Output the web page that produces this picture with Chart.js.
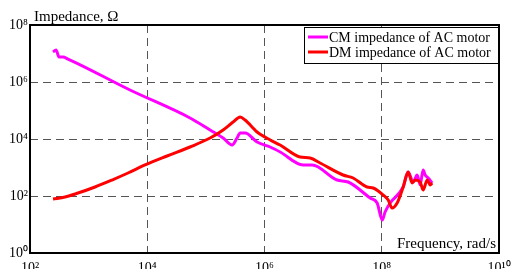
<!DOCTYPE html>
<html>
<head>
<meta charset="utf-8">
<script src="https://cdn.jsdelivr.net/npm/chart.js@4/dist/chart.umd.min.js"></script>
<style>
  body { margin: 0; background: #fff; }
  #wrap { width: 511px; height: 269px; }
</style>
</head>
<body>
<div id="wrap"><canvas id="chartImpedance" width="511" height="269"></canvas></div>
<script>
// Frequency (rad/s) and impedance (Ohm)
const cmFreq = [247, 278, 313, 366, 445, 5080, 53700, 1.18e5, 1.97e5, 2.8e5, 3.4e5, 3.84e5, 4.67e5, 7.48e5, 1.25e6, 1.85e6, 4.56e6, 6.49e6, 1.73e7, 2.67e7, 6.34e7, 8.35e7, 1.02e8, 1.14e8, 1.39e8, 2.32e8, 2.82e8, 3.44e8, 4.02e8, 4.52e8, 5.08e8, 5.5e8, 6.2e8, 7.25e8];
const cmImpedance = [1.13e7, 1.33e7, 7.5e6, 7.5e6, 6.4e6, 5.24e5, 5.46e4, 2.07e4, 1.08e4, 6150, 1.08e4, 1.62e4, 1.62e4, 7850, 5240, 3500, 1225, 1225, 364, 310, 85, 56.8, 14.4, 27.5, 56.8, 207, 695, 310, 546, 250, 817, 546, 428, 286];

const dmFreq = [247, 395, 659, 1285, 2506, 4700, 9160, 21800, 53700, 1.18e5, 1.97e5, 2.91e5, 3.84e5, 4.67e5, 7.48e5, 1.25e6, 1.85e6, 4.05e6, 6.0e6, 8.89e6, 2.19e7, 3.25e7, 5.63e7, 7.13e7, 1.06e8, 1.29e8, 1.5e8, 1.83e8, 2.32e8, 2.82e8, 3.3e8, 3.72e8, 4.52e8, 5.08e8, 5.96e8, 6.7e8, 7.25e8];
const dmImpedance = [78.5, 92, 127, 207, 364, 641, 1225, 2535, 5240, 1.08e4, 2.07e4, 3.94e4, 5.92e4, 4.64e4, 1.76e4, 9230, 6150, 2330, 2150, 1440, 546, 428, 207, 191, 108, 72.4, 37.9, 56.8, 207, 695, 286, 364, 310, 163, 364, 243, 286];

const seriesLabels = ['CM impedance of AC motor', 'DM impedance of AC motor'];
const freqTicks = [1e2, 1e4, 1e6, 1e8, 1e10];
const impTicks = [1e0, 1e2, 1e4, 1e6, 1e8];

const SERIF = "'Liberation Serif', 'Times New Roman', serif";

function supLabel(v) {
  const e = Math.round(Math.log10(v));
  return '10' + String(e).split('').map(d => '⁰¹²³⁴⁵⁶⁷⁸⁹'[d]).join('');
}

function toPoints(xs, ys) {
  return xs.map((x, i) => ({ x: x, y: ys[i] }));
}

// frame, axis captions and boxed legend like the original figure
const figureDecor = {
  id: 'figureDecor',
  afterDraw(chart) {
    const ctx = chart.ctx;
    const a = chart.chartArea;
    ctx.save();
    ctx.strokeStyle = '#000';
    ctx.lineWidth = 2;
    ctx.strokeRect(a.left, a.top, a.right - a.left, a.bottom - a.top);

    ctx.fillStyle = '#000';
    ctx.font = '15px ' + SERIF;
    ctx.textBaseline = 'alphabetic';
    ctx.textAlign = 'left';
    ctx.fillText('Impedance, Ω', a.left + 4, a.top - 4);
    ctx.textAlign = 'right';
    ctx.fillText('Frequency, rad/s', a.right - 3, a.bottom - 5);

    // legend box
    const bx = 304, by = 27, bw = 194, bh = 36;
    ctx.fillStyle = '#fff';
    ctx.fillRect(bx, by, bw, bh);
    ctx.lineWidth = 1;
    ctx.strokeStyle = '#000';
    ctx.strokeRect(bx + 0.5, by + 0.5, bw, bh);
    ctx.font = '14px ' + SERIF;
    ctx.textAlign = 'left';
    ctx.textBaseline = 'middle';
    chart.data.datasets.forEach((ds, i) => {
      const y = by + 10 + i * 15;
      ctx.strokeStyle = ds.borderColor;
      ctx.lineWidth = 3;
      ctx.beginPath();
      ctx.moveTo(bx + 4, y);
      ctx.lineTo(bx + 24, y);
      ctx.stroke();
      ctx.fillStyle = '#000';
      ctx.fillText(ds.label, bx + 25, y + 1);
    });
    ctx.restore();
  }
};

const ctx = document.getElementById('chartImpedance').getContext('2d');
new Chart(ctx, {
  type: 'line',
  data: {
    datasets: [
      {
        label: seriesLabels[0],
        data: toPoints(cmFreq, cmImpedance),
        borderColor: '#ff00ff',
        backgroundColor: '#ff00ff',
        borderWidth: 3,
        pointRadius: 0,
        cubicInterpolationMode: 'monotone',
        order: 1
      },
      {
        label: seriesLabels[1],
        data: toPoints(dmFreq, dmImpedance),
        borderColor: '#ff0000',
        backgroundColor: '#ff0000',
        borderWidth: 3,
        pointRadius: 0,
        cubicInterpolationMode: 'monotone',
        order: 0
      }
    ]
  },
  options: {
    responsive: false,
    animation: false,
    layout: { padding: { top: 25, right: 12, left: 0, bottom: 0 } },
    plugins: {
      legend: { display: false },
      tooltip: { enabled: false }
    },
    scales: {
      x: {
        type: 'logarithmic',
        min: 1e2,
        max: 1e10,
        afterBuildTicks: s => { s.ticks = freqTicks.map(v => ({ value: v, major: true })); },
        afterFit: s => { s.height = 16; s.paddingLeft = 0; s.paddingRight = 0; },
        grid: { color: '#555', lineWidth: 1, drawTicks: false },
        border: { display: false, dash: [8, 5] },
        ticks: {
          color: '#000',
          font: { family: SERIF, size: 14 },
          padding: 7,
          maxRotation: 0,
          autoSkip: false,
          callback: v => supLabel(v)
        }
      },
      y: {
        type: 'logarithmic',
        min: 1e0,
        max: 1e8,
        afterBuildTicks: s => { s.ticks = impTicks.map(v => ({ value: v, major: true })); },
        afterFit: s => { s.width = 30; s.paddingTop = 0; s.paddingBottom = 0; },
        grid: { color: '#555', lineWidth: 1, drawTicks: false },
        border: { display: false, dash: [8, 5] },
        ticks: {
          color: '#000',
          font: { family: SERIF, size: 14 },
          padding: 2,
          autoSkip: false,
          callback: v => supLabel(v)
        }
      }
    }
  },
  plugins: [figureDecor]
});
</script>
</body>
</html>
